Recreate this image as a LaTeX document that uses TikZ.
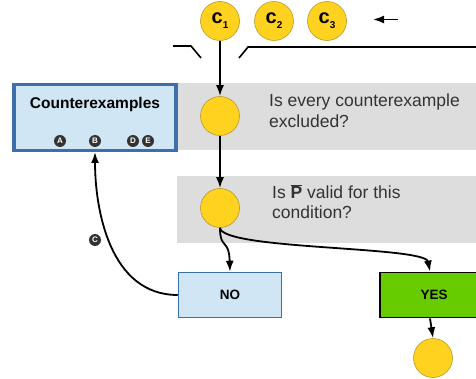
\documentclass[tikz,border=0pt]{standalone}
\usepackage{fontspec}
\setmainfont{Liberation Sans}
\usetikzlibrary{arrows.meta}
\definecolor{ylw}{HTML}{FFD21F}
\definecolor{ylwb}{HTML}{B59A2A}
\definecolor{band}{HTML}{DDDDDD}
\definecolor{lblue}{HTML}{D0E6F5}
\definecolor{bblue}{HTML}{3D6FAD}
\definecolor{grn}{HTML}{66CC00}
\definecolor{txt}{HTML}{333333}
\definecolor{dot}{HTML}{333333}
\tikzset{
  ycirc/.style={circle,fill=ylw,draw=ylwb,line width=0.6pt,minimum size=39pt,inner sep=0pt},
  conn/.style={line width=1.8pt,-{Latex[length=11pt,width=8pt]}},
  plainline/.style={line width=1.6pt},
  letdot/.style={circle,fill=dot,text=white,inner sep=0pt,minimum size=12pt,font=\fontsize{8}{8}\selectfont\bfseries},
  qtext/.style={anchor=north west,align=left,text=txt,font=\fontsize{17.5}{20.5}\selectfont,inner sep=0pt},
  boxlbl/.style={font=\fontsize{13.5}{15}\selectfont\bfseries},
  clbl/.style={font=\fontsize{20}{20}\selectfont\bfseries},
}
\newcommand{\csub}[1]{c\raisebox{-5pt}{\fontsize{10}{10}\selectfont\bfseries #1}}
\begin{document}
\begin{tikzpicture}[x=1pt,y=-1pt]
\useasboundingbox (0,0) rectangle (476,379);
% bands
\fill[band] (177,83) rectangle (476,150);
\fill[band] (177,176) rectangle (476,243);
% top lines
\coordinate (l1) at (173,46);
\coordinate (l2) at (191,46);
\coordinate (l3) at (201,58);
\coordinate (r1) at (239,58);
\coordinate (r2) at (248,47);
\coordinate (r3) at (476,47);
\draw[plainline] (l1) -- (l2) -- (l3);
\draw[plainline] (r1) -- (r2) -- (r3);
% c circles
\node[ycirc,clbl] (c1) at (220,21) {\csub{1}};
\node[ycirc,clbl] (c2) at (274,21) {\csub{2}};
\node[ycirc,clbl] (c3) at (327,21) {\csub{3}};
\coordinate (ar1) at (398,19.5);
\coordinate (ar2) at (373,19.5);
\draw[conn] (ar1) -- (ar2);
% decision circles
\node[ycirc] (d1) at (220,116) {};
\node[ycirc] (d2) at (220,208) {};
\node[ycirc] (d3) at (433,358) {};
% question texts
\node[qtext] (q1) at (269,94) {Is every counterexample\\excluded?};
\node[qtext] (q2) at (272,184) {Is $\overline{\mbox{\bfseries P}}$ valid for this\\condition?};
% counterexamples box
\node[draw=bblue,fill=lblue,line width=3.2pt,minimum width=162pt,minimum height=66pt,inner sep=0pt] (cx) at (95,117.5) {};
\node[font=\fontsize{15.5}{17}\selectfont\bfseries] (cxl) at (95,104) {Counterexamples};
\node[letdot] (la) at (60,141) {A};
\node[letdot] (lb) at (95,141) {B};
\node[letdot] (ld) at (133,141) {D};
\node[letdot] (le) at (148,141) {E};
% NO and YES
\node[draw=bblue,fill=lblue,line width=1.5pt,minimum width=103pt,minimum height=45pt,inner sep=0pt,boxlbl] (no) at (230,295) {NO};
\node[draw=black,fill=grn,line width=1.8pt,minimum width=100pt,minimum height=45pt,inner sep=0pt] (yes) at (430,295) {};
\node[boxlbl] (yesl) at (434,295) {YES};
% connectors
\draw[conn] (c1.south) -- (d1.north);
\draw[conn] (d1.south) -- (d2.north);
\draw[conn] (d2.south) .. controls (220,250) and (229,238) .. (no.north);
\draw[conn] (d2.south) .. controls (222,250) and (425,246) .. (yes.north);
\draw[conn] (yes.south) -- (d3.north);
\coordinate (cxb) at (95,152);
\draw[conn] (no.west) .. controls (110,295) and (95,210) .. (cxb);
\node[letdot] (lc) at (95,240) {C};
\end{tikzpicture}
\end{document}
